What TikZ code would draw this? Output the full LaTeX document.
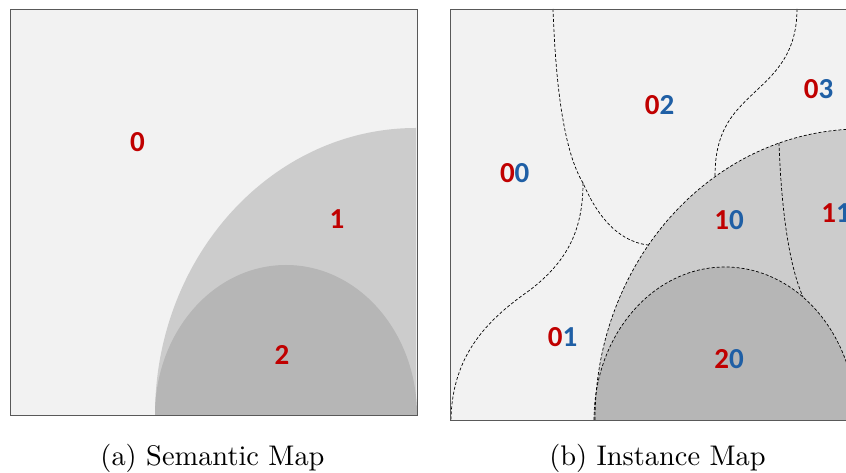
\documentclass[tikz,border=0pt]{standalone}
\usepackage{fontspec}
\newfontfamily\tagfont{Carlito}
\newfontfamily\capfont{lmroman10-regular}[Extension=.otf]
\definecolor{base0}{HTML}{F2F2F2}
\definecolor{base1}{HTML}{CCCCCC}
\definecolor{base2}{HTML}{B6B6B6}
\definecolor{semred}{RGB}{192,0,0}
\definecolor{insblue}{RGB}{31,95,165}
\definecolor{edgegray}{HTML}{595959}
\newcommand\insid[2]{\textcolor{semred}{#1}\textcolor{insblue}{#2}}

\begin{document}
\begin{tikzpicture}[
  x=1pt, y=1pt,
  panel/.style={draw=edgegray, line width=0.9pt},
  seam/.style={draw=black, line width=0.7pt, dash pattern=on 3pt off 2pt},
  tag/.style={inner sep=0pt, text=semred, font=\tagfont\bfseries\fontsize{29}{29}\selectfont},
  caption/.style={inner sep=0pt, anchor=base, font=\capfont\fontsize{28.4}{34}\selectfont}
]
\useasboundingbox (0,0) rectangle (846,473);

% (a) semantic map
\fill[base0] (10,58) rectangle (417,464);
\fill[base1] (155,58) arc[start angle=180, end angle=90, x radius=261, y radius=287] -- (416,58) -- cycle;
\fill[base2] (155,58) arc[start angle=180, end angle=0, x radius=131, y radius=150] -- cycle;
\draw[panel] (10,58) rectangle (417,464);
\node[tag] (s0) at (137.5,331) {0};
\node[tag] (s1) at (337,254) {1};
\node[tag] (s2) at (282,118) {2};

% (b) instance map
\begin{scope}
  \clip (450,53) rectangle (861,464);
  \fill[base0] (450,53) rectangle (861,464);
  \fill[base1] (595,53) arc[start angle=180, end angle=90, x radius=266, y radius=291] -- (861,53) -- cycle;
  \fill[base2] (594,53) arc[start angle=180, end angle=0, x radius=131, y radius=153] -- cycle;
  \draw[seam] (595,53) arc[start angle=180, end angle=90, x radius=266, y radius=291];
  \draw[seam] (594,53) arc[start angle=180, end angle=0, x radius=131, y radius=153];
  % borders between instances
  \coordinate (top1) at (553,464);
  \coordinate (top2) at (797,464);
  \coordinate (fork) at (583,290);
  \coordinate (rim1) at (648,228);
  \coordinate (rim2) at (715,297);
  \coordinate (rim3) at (779,330);
  \coordinate (rim4) at (803,176);
  \coordinate (foot) at (451,53);
  \draw[seam] (top1) .. controls (556,380) and (565,320) .. (fork)
    .. controls (595,262) and (615,232) .. (rim1);
  \draw[seam] (fork) .. controls (583,240) and (565,210) .. (530,183)
    .. controls (490,155) and (452,120) .. (foot);
  \draw[seam] (top2) .. controls (797,420) and (775,400) .. (757,383)
    .. controls (735,362) and (715,345) .. (rim2);
  \draw[seam] (rim3) .. controls (781,270) and (788,210) .. (rim4);
\end{scope}
\draw[panel] (450,53) rectangle (861,464);
\node[tag] (i00) at (514.7,299.5) {\insid{0}{0}};
\node[tag] (i01) at (562.5,135.5) {\insid{0}{1}};
\node[tag] (i02) at (659.5,367.5) {\insid{0}{2}};
\node[tag] (i03) at (818.5,383.5) {\insid{0}{3}};
\node[tag] (i10) at (729,252.5) {\insid{1}{0}};
\node[tag] (i11) at (836,260) {\insid{1}{1}};
\node[tag] (i20) at (729,113.5) {\insid{2}{0}};

% captions
\node[caption] (capa) at (212.5,7) {(a) Semantic Map};
\node[caption] (capb) at (657.5,7) {(b) Instance Map};
\end{tikzpicture}
\end{document}
